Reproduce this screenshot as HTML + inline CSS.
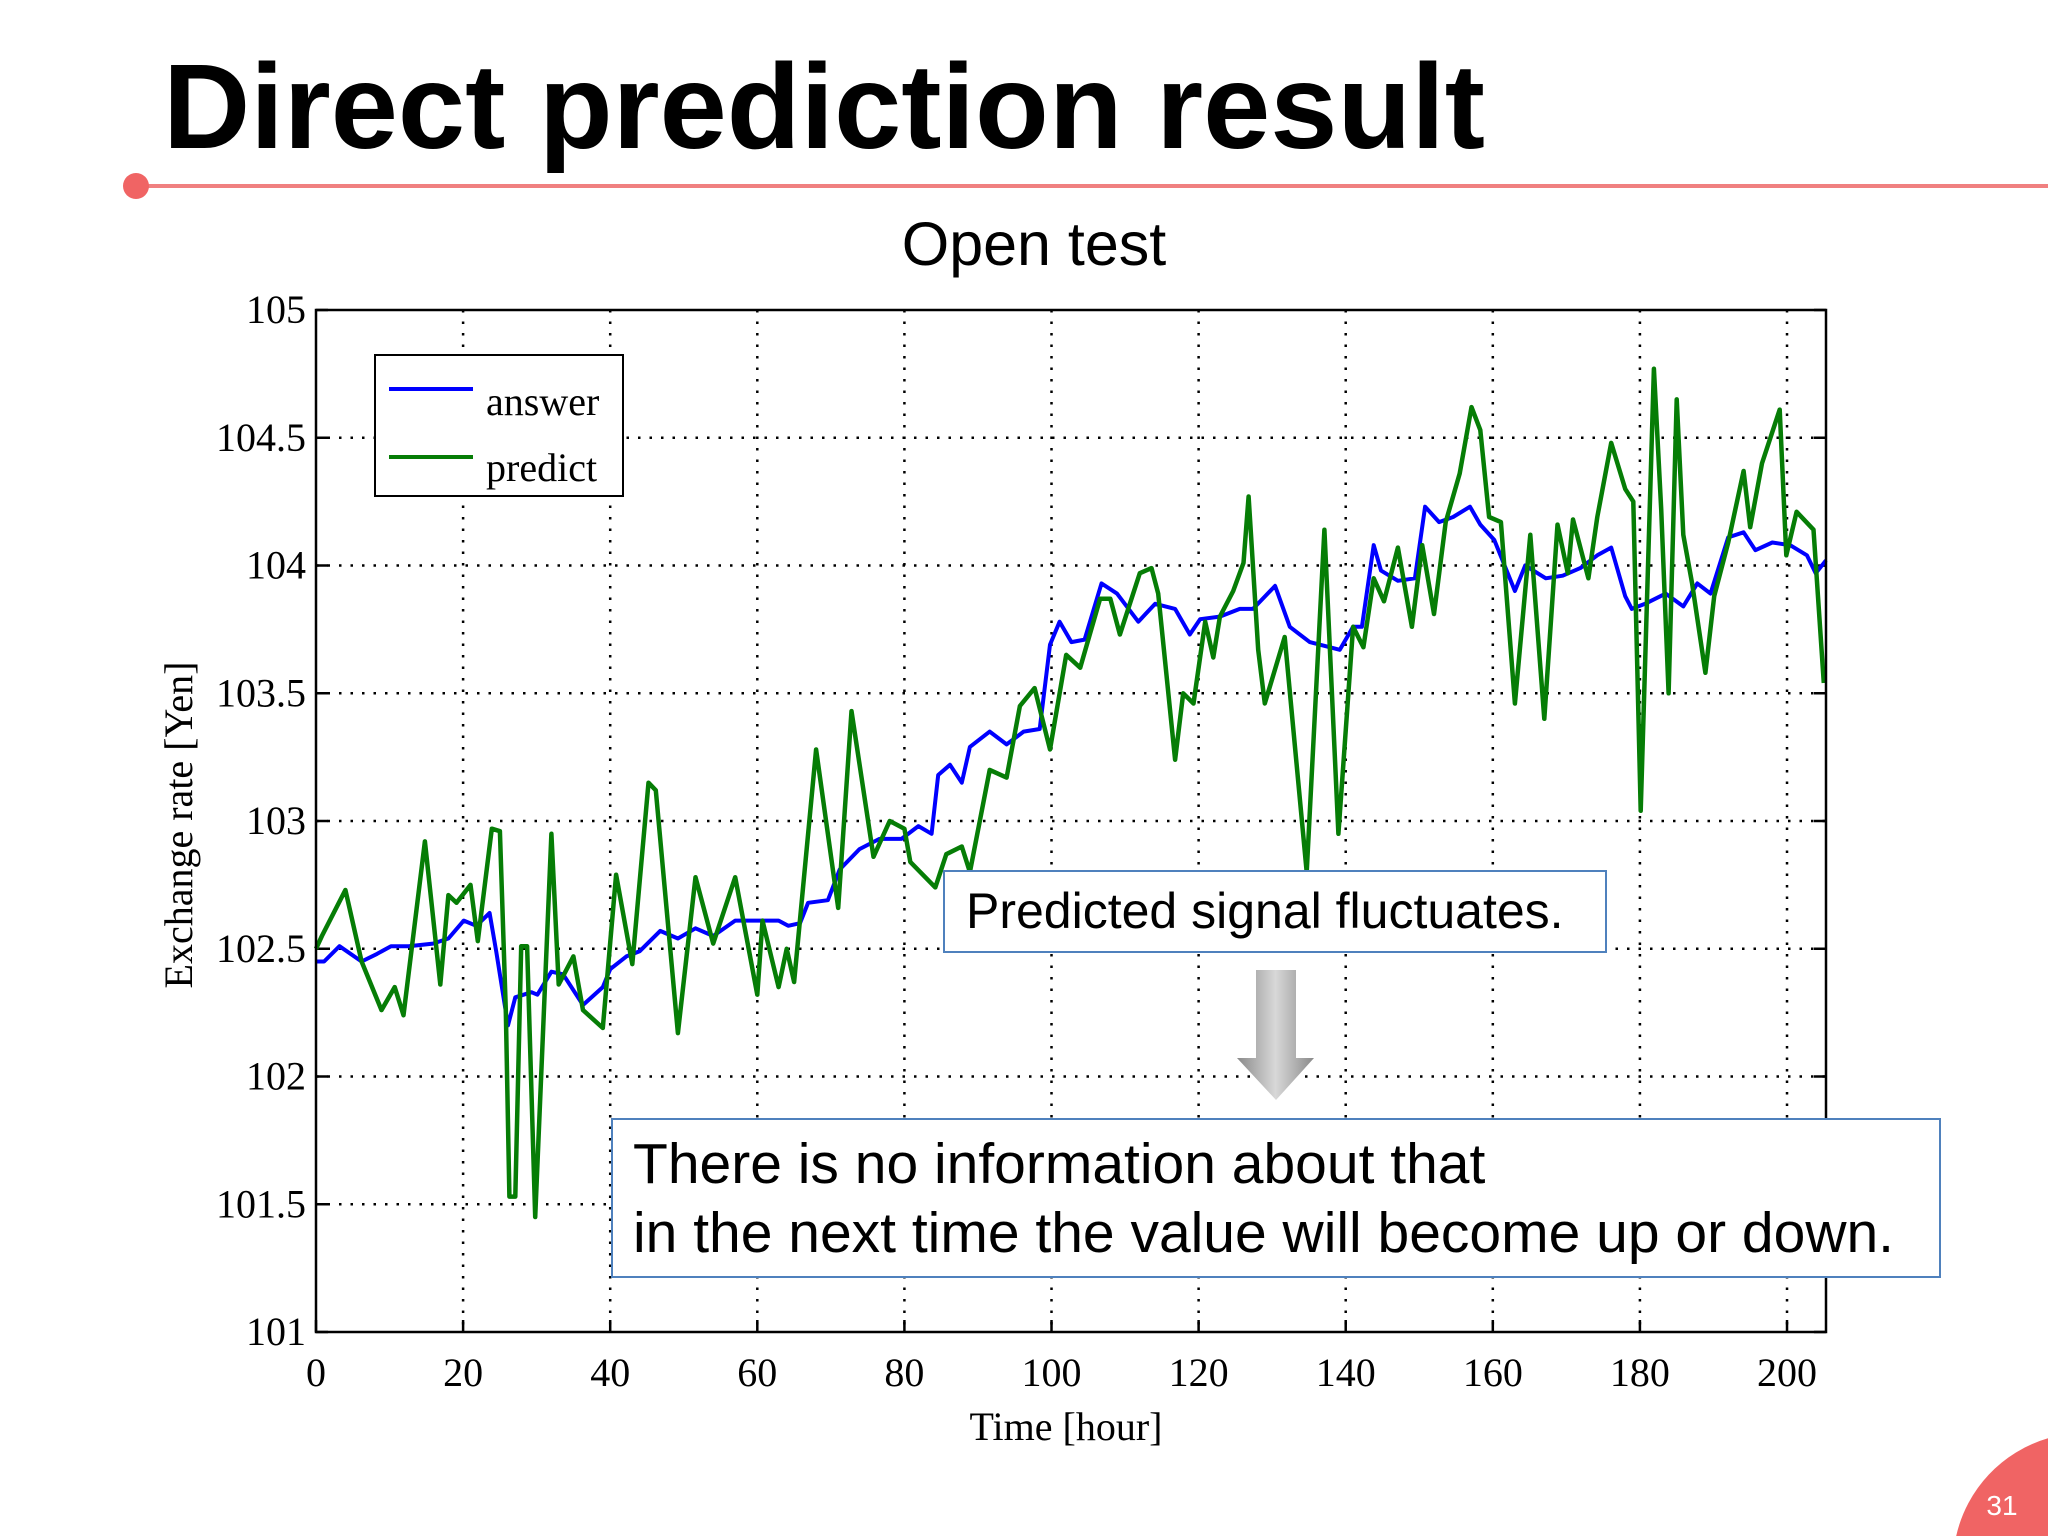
<!DOCTYPE html>
<html><head><meta charset="utf-8">
<style>
html,body{margin:0;padding:0;background:#fff;overflow:hidden;}
body{width:2048px;height:1536px;position:relative;overflow:hidden;font-family:"Liberation Sans","DejaVu Sans",sans-serif;}
svg{display:block;}
</style></head>
<body>
<svg id="s" width="2048" height="1536" viewBox="0 0 2048 1536" xmlns="http://www.w3.org/2000/svg">
<defs>
<linearGradient id="ag" x1="0" y1="0" x2="1" y2="0">
<stop offset="0" stop-color="#8a8a8a"/><stop offset="0.5" stop-color="#d8d8d8"/><stop offset="1" stop-color="#8a8a8a"/>
</linearGradient>
</defs>
<text x="163" y="148" font-family="Liberation Sans, sans-serif" font-weight="bold" font-size="121" fill="#000" textLength="1322" lengthAdjust="spacingAndGlyphs">Direct prediction result</text>
<line x1="145" y1="186" x2="2048" y2="186" stroke="#f08080" stroke-width="4"/>
<circle cx="136" cy="186" r="13" fill="#f06464"/>
<text x="1034" y="265" text-anchor="middle" font-size="61" fill="#000">Open test</text>
<g id="grid"></g>
<g id="axes"></g>
<g id="series"></g>
<rect x="316" y="310" width="1510" height="1022" fill="none" stroke="#000" stroke-width="2.5"/>
<text x="1066" y="1440" text-anchor="middle" font-family="Liberation Serif, serif" font-size="40">Time [hour]</text>
<text transform="translate(192,825) rotate(-90)" text-anchor="middle" font-family="Liberation Serif, serif" font-size="40">Exchange rate [Yen]</text>
<g>
<rect x="375" y="355" width="248" height="141" fill="#fff" stroke="#000" stroke-width="2"/>
<line x1="389" y1="389" x2="473" y2="389" stroke="#0000ff" stroke-width="4"/>
<text x="486" y="415" font-family="Liberation Serif, serif" font-size="40">answer</text>
<line x1="389" y1="457" x2="473" y2="457" stroke="#067d06" stroke-width="4"/>
<text x="486" y="481" font-family="Liberation Serif, serif" font-size="40">predict</text>
</g>
<g>
<rect x="944" y="871" width="662" height="81" fill="#fff" stroke="#4f81bd" stroke-width="2"/>
<text x="966" y="928" font-size="50" fill="#000">Predicted signal fluctuates.</text>
</g>
<polygon points="1256,970 1296,970 1296,1058 1314,1058 1276,1100 1237,1058 1256,1058" fill="url(#ag)"/>
<g>
<rect x="612" y="1119" width="1328" height="158" fill="#fff" stroke="#4f81bd" stroke-width="2"/>
<text x="633" y="1183" font-size="57" fill="#000">There is no information about that</text>
<text x="633" y="1252" font-size="57" fill="#000">in the next time the value will become up or down.</text>
</g>
<path d="M1956.2,1536 A132,132 0 0 1 2048,1438.3 L2048,1536 Z" fill="#f06464"/>
<text x="2002" y="1515" text-anchor="middle" font-size="28" fill="#fff">31</text>
</svg>
<script>
const xTicks=[0,20,40,60,80,100,120,140,160,180,200];
const yTicks=[101,101.5,102,102.5,103,103.5,104,104.5,105];
const yTickLabels=["101","101.5","102","102.5","103","103.5","104","104.5","105"];
const answerT=[0,1.1,3.2,6.2,8.3,10.2,12.6,15.9,18,20.1,21.8,23.6,24.5,26.1,27.1,29.3,30.1,32,33.6,36.3,39,40,42.2,44,46.8,49.2,51.6,54,57,60.2,62.9,64.2,65.8,66.9,69.6,71.2,73.9,76.6,79.6,81.9,83.7,84.6,86.2,87.8,88.9,91.6,93.9,96.2,98.4,99.8,101.1,102.7,104.5,106.8,108.9,111.8,114.1,116.8,118.8,120.2,122.9,125.6,127.4,130.4,132.4,135.1,139.2,141,142.2,143.8,144.8,147.1,149.4,150.8,152.7,154.6,156.9,158.3,160.2,163,164.4,167.2,169.5,171.9,174.2,176.1,178,178.9,180.7,183.5,185.9,187.8,189.6,192,194.1,195.7,198,200.4,202.7,203.9,205.3];
const answerV=[102.45,102.45,102.51,102.45,102.48,102.51,102.51,102.52,102.54,102.61,102.59,102.64,102.49,102.2,102.31,102.33,102.32,102.41,102.4,102.28,102.35,102.42,102.47,102.49,102.57,102.54,102.58,102.55,102.61,102.61,102.61,102.59,102.6,102.68,102.69,102.81,102.89,102.93,102.93,102.98,102.95,103.18,103.22,103.15,103.29,103.35,103.3,103.35,103.36,103.69,103.78,103.7,103.71,103.93,103.89,103.78,103.85,103.83,103.73,103.79,103.8,103.83,103.83,103.92,103.76,103.7,103.67,103.76,103.76,104.08,103.98,103.94,103.95,104.23,104.17,104.19,104.23,104.16,104.1,103.9,104.0,103.95,103.96,103.99,104.04,104.07,103.88,103.83,103.85,103.89,103.84,103.93,103.89,104.11,104.13,104.06,104.09,104.08,104.04,103.97,104.02];
const predictT=[0,0.8,4,6.2,8.9,10.7,11.9,14.8,16.9,18,19.1,21,22,23.9,25,25.8,26.3,27.1,27.9,28.7,29.8,32,33,35,36.3,39,40.8,43,45.2,46.2,49.2,51.6,54,57,60,60.7,62.9,64,65,68,71,72.8,75.8,78,80,80.8,84.2,85.7,87.8,88.9,91.6,93.9,95.7,97.7,99.8,102,103.9,106.6,108,109.3,112,113.6,114.5,116.8,117.9,119.3,120.9,122,122.9,124.7,126.1,126.8,128.1,129,131.7,134.7,137.1,139,141,142.4,143.8,145.2,147.1,149,150.4,152,153.6,155.5,157.1,158.3,159.5,161.1,163,165.1,167,168.8,170.2,170.9,173,174.2,176.1,178,179.1,180.1,181.9,182.9,183.9,185,185.9,187.1,188.9,190.1,192,194.1,195,196.6,199,199.9,201.3,203.6,205];
const predictV=[102.5,102.55,102.73,102.45,102.26,102.35,102.24,102.92,102.36,102.71,102.68,102.75,102.53,102.97,102.96,102.26,101.53,101.53,102.51,102.51,101.45,102.95,102.36,102.47,102.26,102.19,102.79,102.44,103.15,103.12,102.17,102.78,102.52,102.78,102.32,102.61,102.35,102.5,102.37,103.28,102.66,103.43,102.86,103.0,102.97,102.84,102.74,102.87,102.9,102.8,103.2,103.17,103.45,103.52,103.28,103.65,103.6,103.87,103.87,103.73,103.97,103.99,103.89,103.24,103.5,103.46,103.78,103.64,103.8,103.9,104.01,104.27,103.67,103.46,103.72,102.8,104.14,102.95,103.76,103.68,103.95,103.86,104.07,103.76,104.08,103.81,104.17,104.36,104.62,104.53,104.19,104.17,103.46,104.12,103.4,104.16,103.97,104.18,103.95,104.19,104.48,104.3,104.25,103.04,104.77,104.22,103.5,104.65,104.12,103.93,103.58,103.88,104.09,104.37,104.15,104.4,104.61,104.04,104.21,104.14,103.54];

const X0=316,X1=1826,Y0=1332,Y1=310,TMIN=0,TMAX=205.3,VMIN=101,VMAX=105;
function xs(t){return X0+(t-TMIN)/(TMAX-TMIN)*(X1-X0);}
function ys(v){return Y0-(v-VMIN)/(VMAX-VMIN)*(Y0-Y1);}
const NS="http://www.w3.org/2000/svg";
function mk(tag,attrs,parent){const e=document.createElementNS(NS,tag);for(const k in attrs)e.setAttribute(k,attrs[k]);parent.appendChild(e);return e;}
const grid=document.getElementById('grid'),axes=document.getElementById('axes'),series=document.getElementById('series');
xTicks.forEach(t=>{
  const x=xs(t);
  if(t>0){const g=mk('line',{x1:x,y1:Y1,x2:x,y2:Y0,stroke:'#000','stroke-width':2.5,'stroke-dasharray':'2.5 9'},grid);
  
  }
  const tk=mk('line',{x1:x,y1:Y0,x2:x,y2:Y0-12,stroke:'#000','stroke-width':2.5},axes);
  
  
  const tx=mk('text',{x:x,y:Y0+54,'text-anchor':'middle','font-family':'Liberation Serif, serif','font-size':40},axes);
  tx.textContent=String(t);
  
  
});
yTicks.forEach((v,i)=>{
  const y=ys(v);
  if(i>0&&i<yTicks.length-1){const g=mk('line',{x1:X0,y1:y,x2:X1,y2:y,stroke:'#000','stroke-width':2.5,'stroke-dasharray':'2.5 9'},grid);
  
  }
  const tk=mk('line',{x1:X0,y1:y,x2:X0+12,y2:y,stroke:'#000','stroke-width':2.5},axes);
  
  
  const tk2=mk('line',{x1:X1,y1:y,x2:X1-12,y2:y,stroke:'#000','stroke-width':2.5},axes);
  
  
  const tx=mk('text',{x:X0-10,y:y+13,'text-anchor':'end','font-family':'Liberation Serif, serif','font-size':40},axes);
  tx.textContent=yTickLabels[i];
  
  
});
function pts(T,V){return T.map((t,i)=>xs(t).toFixed(1)+','+ys(V[i]).toFixed(1)).join(' ');}
const a=mk('polyline',{points:pts(answerT,answerV),fill:'none',stroke:'#0000ff','stroke-width':4,'stroke-linejoin':'round'},series);


const p=mk('polyline',{points:pts(predictT,predictV),fill:'none',stroke:'#067d06','stroke-width':4.5,'stroke-linejoin':'round'},series);


</script>
</body></html>
